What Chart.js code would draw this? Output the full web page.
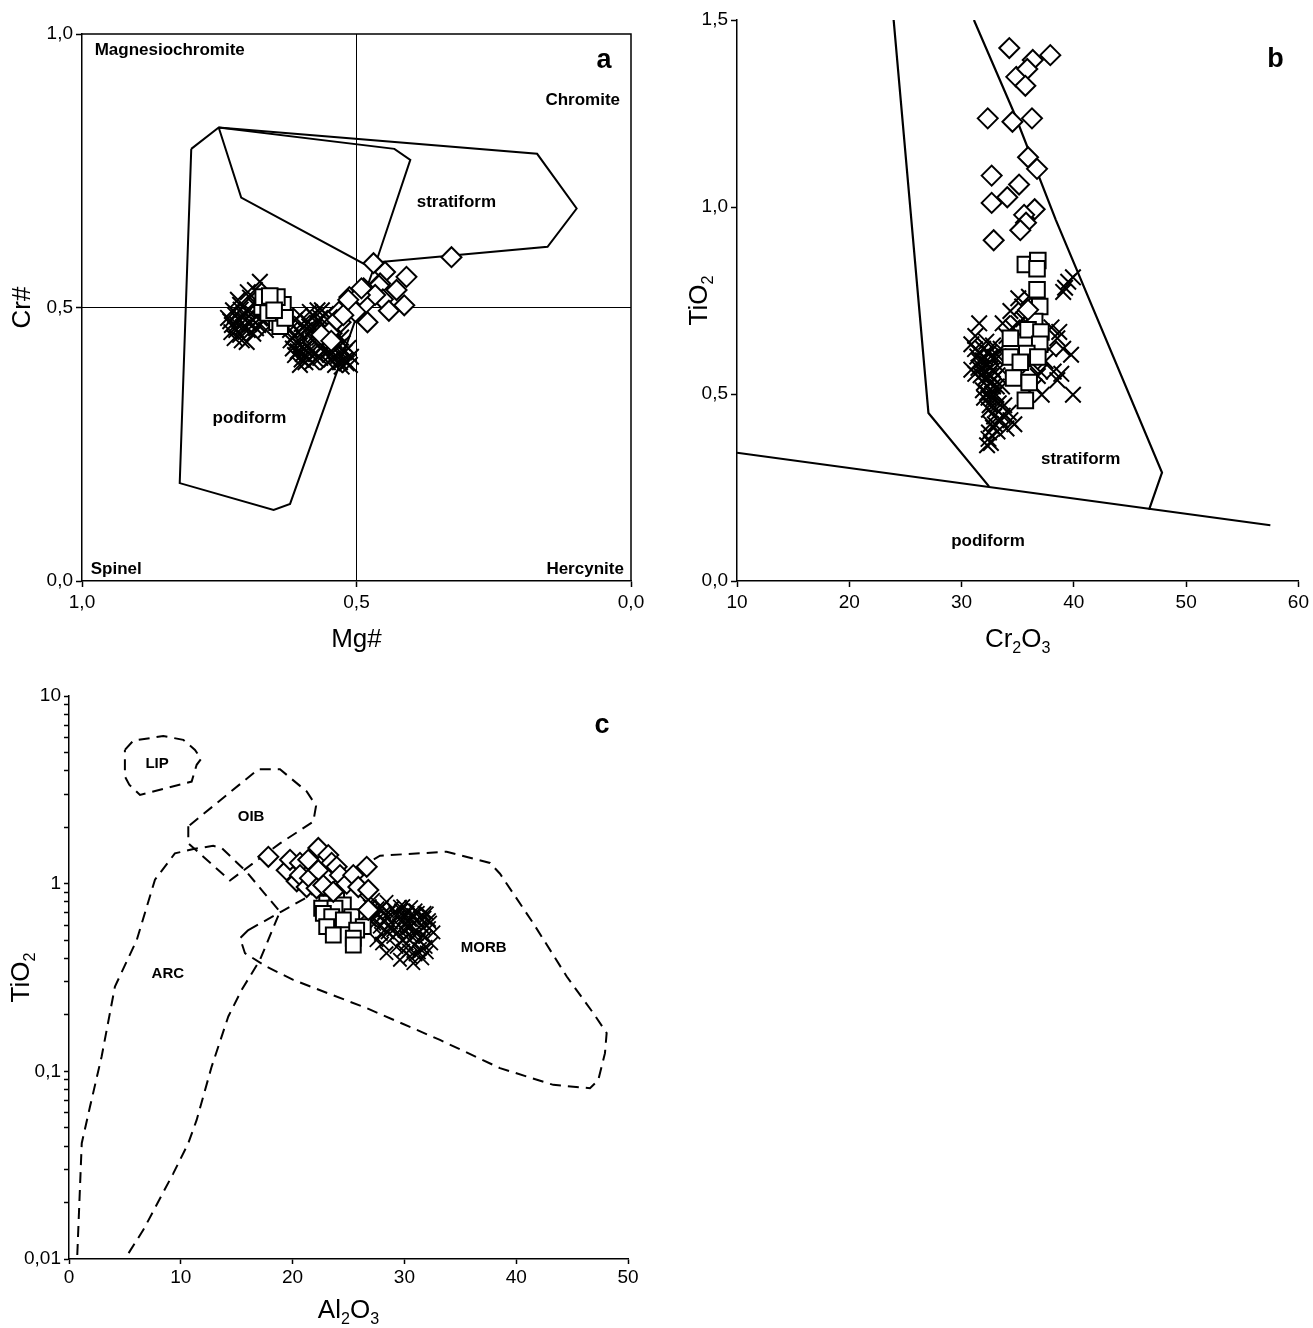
<!DOCTYPE html>
<html>
<head>
<meta charset="utf-8">
<title>Chromite discrimination diagrams</title>
<script src="https://cdn.jsdelivr.net/npm/chart.js@4.4.1/dist/chart.umd.min.js"></script>
<style>
  html, body { margin: 0; padding: 0; background: #fff; }
  body { width: 1313px; height: 1328px; position: relative; overflow: hidden; }
  canvas { position: absolute; }
  #panelA { left: 0; top: 0; }
  #panelB { left: 660px; top: 0; }
  #panelC { left: 0; top: 660px; }
</style>
</head>
<body>
<canvas id="panelA" width="660" height="660"></canvas>
<canvas id="panelB" width="653" height="660"></canvas>
<canvas id="panelC" width="660" height="668"></canvas>
<script>
// ---------------- data: panel a (Cr# vs Mg#) ----------------
const aTicks = [0, 0.5, 1];
const aTickLabels = ['0,0', '0,5', '1,0'];
const aPodiform = [[0.801,0.790],[0.751,0.829],[0.431,0.790],[0.402,0.770],[0.460,0.596],[0.621,0.141],[0.651,0.130],[0.822,0.179],[0.801,0.790]];
const aStratiform = [[0.751,0.829],[0.171,0.781],[0.099,0.681],[0.152,0.611],[0.446,0.584],[0.487,0.580],[0.710,0.701],[0.751,0.829]];
const aDiamonds = [[0.327,0.592],[0.469,0.581],[0.448,0.565],[0.409,0.556],[0.457,0.544],[0.427,0.532],[0.459,0.540],[0.487,0.535],[0.513,0.519],[0.483,0.508],[0.452,0.515],[0.413,0.504],[0.441,0.494],[0.480,0.473],[0.502,0.492],[0.529,0.473],[0.532,0.492],[0.550,0.454],[0.564,0.450],[0.546,0.439],[0.466,0.523],[0.494,0.523],[0.536,0.477],[0.524,0.486],[0.515,0.514],[0.491,0.535]];
const aSquares = [[0.672,0.501],[0.658,0.501],[0.634,0.505],[0.645,0.519],[0.670,0.519],[0.645,0.473],[0.639,0.466],[0.661,0.490],[0.630,0.481],[0.658,0.521],[0.650,0.495]];
const aCrosses = [[0.676,0.547],[0.685,0.532],[0.698,0.528],[0.694,0.518],[0.712,0.505],[0.721,0.486],[0.703,0.477],[0.727,0.468],[0.698,0.459],[0.712,0.450],[0.672,0.495],[0.716,0.514],[0.734,0.481],[0.707,0.464],[0.679,0.468],[0.665,0.459],[0.719,0.459],[0.690,0.490],[0.700,0.495],[0.725,0.495],[0.709,0.440],[0.695,0.470],[0.686,0.505],[0.730,0.475],[0.715,0.478],[0.676,0.480],[0.722,0.444],[0.700,0.437],[0.688,0.452],[0.668,0.476],
  [0.705,0.485],[0.718,0.470],[0.690,0.478],[0.728,0.455],[0.711,0.496],[0.683,0.462],
  [0.612,0.477],[0.603,0.486],[0.585,0.492],[0.566,0.481],[0.594,0.459],[0.576,0.450],[0.557,0.463],[0.603,0.431],[0.585,0.422],[0.612,0.413],[0.566,0.408],[0.548,0.431],[0.530,0.419],[0.521,0.404],[0.539,0.395],[0.603,0.395],[0.581,0.400],[0.557,0.441],[0.621,0.459],[0.570,0.431],[0.597,0.444],[0.536,0.450],[0.515,0.426],[0.548,0.413],[0.588,0.473],[0.563,0.495],[0.610,0.437],[0.577,0.463],[0.552,0.400],[0.590,0.410],[0.616,0.425],[0.560,0.420],[0.540,0.440],[0.575,0.415],[0.595,0.425],[0.525,0.435],[0.510,0.410],[0.530,0.400],[0.545,0.470],[0.600,0.470],[0.620,0.440],[0.580,0.440],
  [0.605,0.455],[0.598,0.415],[0.572,0.472],[0.568,0.445],[0.562,0.430],[0.555,0.452],[0.551,0.420],[0.546,0.405],[0.541,0.425],[0.535,0.410],[0.528,0.445],[0.522,0.418],[0.518,0.398],[0.583,0.455],[0.589,0.430],[0.593,0.400],[0.607,0.420],[0.614,0.448],[0.618,0.470],[0.579,0.485],[0.571,0.495],[0.586,0.465],[0.562,0.470],[0.556,0.488],[0.541,0.458],[0.533,0.428],[0.512,0.395],[0.527,0.392],[0.574,0.405],[0.600,0.405]];

// ---------------- data: panel b (TiO2 vs Cr2O3) ----------------
const bTicksX = [10, 20, 30, 40, 50, 60];
const bTickLabelsX = ['10', '20', '30', '40', '50', '60'];
const bTicksY = [0, 0.5, 1, 1.5];
const bTickLabelsY = ['0,0', '0,5', '1,0', '1,5'];
const bLeftBoundary = [[23.95,1.5],[27.05,0.449],[32.44,0.253]];
const bRightBoundary = [[31.1,1.5],[34.7,1.25],[38.4,0.965],[47.85,0.290],[46.70,0.191]];
const bPodiformLimit = [[10,0.343],[57.5,0.149]];
const bDiamonds = [[34.25,1.425],[36.34,1.393],[37.90,1.406],[34.87,1.348],[35.85,1.369],[35.68,1.324],[32.33,1.237],[34.53,1.228],[36.27,1.237],[35.92,1.133],[36.72,1.102],[32.68,1.084],[35.12,1.060],[34.07,1.026],[32.68,1.011],[36.51,0.994],[35.57,0.979],[35.74,0.958],[35.23,0.938],[32.86,0.911],[35.92,0.725]];
const bSquares = [[35.68,0.846],[36.79,0.857],[36.72,0.835],[36.72,0.779],[36.96,0.734],[36.51,0.694],[35.92,0.672],[37.07,0.666],[34.35,0.649],[36.96,0.633],[35.81,0.608],[34.35,0.599],[36.79,0.599],[35.23,0.585],[34.63,0.543],[36.02,0.531],[35.68,0.483]];
const bCrosses = [[39.92,0.812],[39.22,0.784],[39.05,0.773],[39.5,0.800],[38.01,0.678],[38.70,0.666],[38.53,0.649],[39.05,0.621],[39.75,0.605],[39.92,0.498],[38.88,0.554],[38.53,0.537],[37.14,0.498],[37.48,0.588],[36.79,0.548],[36.09,0.576],[35.05,0.756],[34.35,0.722],[35.40,0.734],[33.66,0.689],[31.57,0.689],[31.22,0.655],[30.87,0.633],[31.92,0.621],[32.44,0.610],[32.96,0.599],[31.57,0.588],[32.27,0.576],[32.79,0.565],[32.09,0.543],[32.61,0.531],[33.14,0.520],[32.27,0.503],[32.79,0.487],[33.31,0.475],[32.44,0.458],[33.66,0.442],[34.35,0.430],[32.96,0.419],[32.44,0.397],[32.61,0.369],[32.27,0.363],[34.00,0.408],[34.70,0.419],[30.87,0.565],[31.22,0.554],[35.05,0.689],[34.53,0.678],[34.00,0.655],[33.48,0.621],[32.0,0.600],[32.3,0.580],[32.5,0.550],[32.8,0.520],[33.0,0.500],[31.8,0.570],[32.0,0.530],[33.4,0.570],[35.5,0.700],[37.8,0.620],[38.2,0.560],[36.5,0.520],[37.0,0.560],[33.8,0.470],[34.2,0.450],[32.9,0.440],[32.6,0.420],[33.2,0.400],[36.0,0.760],[31.6,0.610],[32.2,0.640],[31.9,0.510],[32.4,0.490],[31.7,0.550],
  [31.4,0.600],[31.9,0.590],[32.6,0.600],[32.1,0.560],[32.6,0.570],[31.5,0.570],[32.3,0.520],[32.9,0.540],[33.2,0.550],[32.0,0.490],[32.7,0.500],[33.1,0.460],[32.5,0.470],[32.8,0.410],[33.5,0.430],[32.4,0.380],[33.6,0.520],[33.3,0.600],[31.2,0.620],[32.8,0.630]];

// ---------------- data: panel c (TiO2 vs Al2O3, log) ----------------
const cTicksX = [0, 10, 20, 30, 40, 50];
const cTickLabelsX = ['0', '10', '20', '30', '40', '50'];
const cDecades = [0.01, 0.1, 1, 10];
const cDecadeLabels = ['0,01', '0,1', '1', '10'];
const cMinorSteps = [2, 3, 4, 5, 6, 7, 8, 9];
const cLIP = [[5.0,5.16],[5.75,5.78],[8.43,6.12],[10.22,5.84],[11.27,5.16],[11.81,4.62],[11.42,4.30],[10.97,3.50],[6.35,2.97],[5.39,3.37],[5.0,3.73],[5.0,5.16]];
const cOIB = [[10.67,2.02],[10.67,1.64],[14.4,1.04],[18.87,1.64],[21.85,2.14],[22.1,2.60],[21.26,3.10],[18.87,4.07],[16.93,4.07],[10.67,2.02]];
const cARC = [[0.74,0.0105],[1.14,0.0414],[1.88,0.0649],[2.92,0.120],[4.11,0.283],[6.06,0.501],[7.69,1.05],[9.47,1.45],[11.13,1.53],[12.9,1.59],[13.66,1.55],[15.92,1.15],[17.2,0.93],[18.87,0.71],[17.08,0.392],[15.45,0.272],[14.25,0.196],[12.76,0.106],[11.42,0.0551],[10.67,0.0414],[9.33,0.0286],[6.65,0.0143],[5.0,0.01]];
const cMORB = [[16.04,0.566],[15.3,0.512],[15.74,0.426],[17.68,0.361],[20.06,0.307],[26.63,0.217],[33.18,0.147],[38.55,0.104],[43.32,0.0847],[46.6,0.0813],[47.34,0.0899],[47.94,0.125],[48.09,0.160],[46.9,0.204],[44.52,0.320],[41.53,0.615],[38.55,1.13],[37.66,1.29],[33.78,1.48],[27.82,1.41],[26.92,1.31],[19.0,0.71],[16.04,0.566]];
const cDiamonds = [[17.83,1.39],[19.47,1.18],[19.77,1.34],[20.37,1.03],[20.66,1.29],[20.66,1.11],[21.4,1.34],[21.26,0.96],[21.56,1.07],[22.3,1.55],[22.3,1.18],[22.15,0.945],[22.75,0.98],[23.19,1.42],[23.49,1.29],[23.94,1.23],[23.64,0.905],[24.24,1.11],[24.84,1.0],[25.43,1.11],[25.88,0.96],[26.63,1.23],[26.77,0.925],[26.77,0.725]];
const cSquares = [[23.05,0.787],[23.94,0.819],[24.54,0.771],[22.6,0.74],[23.79,0.74],[22.75,0.695],[25.29,0.667],[23.5,0.667],[24.54,0.641],[23.05,0.59],[26.32,0.59],[25.73,0.566],[23.64,0.533],[25.43,0.512],[25.43,0.471]];
const cCrosses = [[27.2,0.82],[28.4,0.80],[29.6,0.755],[31.0,0.72],[32.0,0.695],[32.3,0.62],[32.6,0.55],[32.0,0.43],[30.8,0.377],[29.6,0.393],[28.4,0.426],[27.5,0.50],[26.9,0.64],[27.8,0.59],[29.0,0.566],[30.2,0.59],[31.1,0.54],[30.2,0.48],[29.3,0.46],[31.4,0.45],[26.6,0.80],[27.0,0.72],[27.6,0.68],[28.0,0.75],[28.6,0.70],[28.2,0.64],[28.8,0.62],[29.4,0.66],[29.9,0.68],[30.5,0.64],[30.9,0.62],[31.5,0.60],[31.8,0.66],[31.2,0.70],[30.6,0.75],[30.0,0.56],[30.7,0.52],[31.3,0.50],[31.9,0.52],[31.6,0.40],[31.0,0.42],[30.4,0.44],[29.8,0.50],[29.0,0.52],[28.5,0.55],[27.3,0.61],[26.7,0.70],[28.0,0.48],[30.1,0.62],[31.7,0.58],[32.4,0.48],[31.1,0.64],[29.5,0.60],[28.9,0.74],[27.9,0.54],[30.3,0.70],[32.2,0.58],
  [29.2,0.70],[29.7,0.72],[30.0,0.66],[30.8,0.68],[31.4,0.66],[30.4,0.58],[31.0,0.56],[30.6,0.60],[31.6,0.53],[30.9,0.47],[31.3,0.43],[30.5,0.41],[29.9,0.44],[29.4,0.55],[28.7,0.58],[28.2,0.70],[27.6,0.74],[27.2,0.66],[26.9,0.76],[28.5,0.66],[29.9,0.76],[31.8,0.70],[32.2,0.64],[31.9,0.46],[30.2,0.52]];

// ---------------- helpers ----------------
const TEXT_FONT = '"Liberation Sans", Arial, Helvetica, sans-serif';
Chart.defaults.font.family = TEXT_FONT;
Chart.defaults.color = '#000';

const pts = arr => arr.map(p => ({ x: p[0], y: p[1] }));

function markerSet(data, style, radius, width) {
  return {
    data: pts(data), showLine: false, pointStyle: style,
    pointRadius: radius, pointHoverRadius: radius,
    pointBorderColor: '#000', pointBackgroundColor: '#fff', pointBorderWidth: width
  };
}

function outline(data, width, dash) {
  return {
    data: pts(data), showLine: true, fill: false, tension: 0,
    pointRadius: 0, pointHoverRadius: 0,
    borderColor: '#000', borderWidth: width, borderDash: dash || [],
    borderCapStyle: 'butt', borderJoinStyle: 'miter'
  };
}

// axis with a fixed box size so the plot areas line up
function axis(o) {
  const isY = o.dir === 'y';
  return {
    type: o.type || 'linear',
    position: isY ? 'left' : 'bottom',
    min: o.min, max: o.max, reverse: !!o.reverse,
    border: { display: true, color: '#000', width: 1.5 },
    grid: { display: true, drawOnChartArea: false, drawTicks: true,
            tickLength: o.tickLength || 6, tickColor: '#000', tickWidth: 1.5 },
    ticks: {
      autoSkip: false, maxRotation: 0, minRotation: 0, padding: o.padding, color: '#000',
      font: { family: TEXT_FONT, size: 19 },
      callback: v => {
        const i = o.labelAt.findIndex(t => Math.abs(t - v) < 1e-9 * Math.max(1, Math.abs(t)));
        return i >= 0 ? o.labels[i] : '';
      }
    },
    afterBuildTicks: s => { s.ticks = o.marks.map(v => ({ value: v })); },
    afterFit: s => { if (isY) s.width = o.size; else s.height = o.size; }
  };
}

// text with subscripts, centred on the current origin
function drawRich(ctx, parts, size) {
  const sub = size * 0.62;
  let w = 0;
  parts.forEach(([t, s]) => { ctx.font = `${s ? sub : size}px ${TEXT_FONT}`; w += ctx.measureText(t).width; });
  let x = -w / 2;
  ctx.textAlign = 'left';
  ctx.textBaseline = 'alphabetic';
  parts.forEach(([t, s]) => {
    ctx.font = `${s ? sub : size}px ${TEXT_FONT}`;
    ctx.fillText(t, x, size * 0.36 + (s ? size * 0.2 : 0));
    x += ctx.measureText(t).width;
  });
}

function panelText(cfg) {
  return {
    id: 'panelText',
    beforeDatasetsDraw(chart) {
      if (!cfg.frame) return;
      const { ctx, chartArea: a } = chart;
      ctx.save();
      ctx.strokeStyle = '#000';
      ctx.lineWidth = 1.5;
      ctx.beginPath();
      ctx.moveTo(a.left, a.top); ctx.lineTo(a.right, a.top); ctx.lineTo(a.right, a.bottom);
      ctx.stroke();
      ctx.restore();
    },
    afterDraw(chart) {
      const { ctx, chartArea: a, scales } = chart;
      ctx.save();
      ctx.fillStyle = '#000';
      cfg.labels.forEach(l => {
        ctx.font = `bold ${l.size}px ${TEXT_FONT}`;
        ctx.textAlign = l.align || 'center';
        ctx.textBaseline = 'middle';
        ctx.fillText(l.text, scales.x.getPixelForValue(l.x), scales.y.getPixelForValue(l.y));
      });
      // panel letter
      ctx.font = `bold 27px ${TEXT_FONT}`;
      ctx.textAlign = 'center';
      ctx.textBaseline = 'middle';
      ctx.fillText(cfg.letter.text, a.right + cfg.letter.dx, a.top + cfg.letter.dy);
      // axis titles
      ctx.save();
      ctx.translate((a.left + a.right) / 2, a.bottom + cfg.xTitle.dy);
      drawRich(ctx, cfg.xTitle.parts, 26);
      ctx.restore();
      ctx.save();
      ctx.translate(a.left + cfg.yTitle.dx, (a.top + a.bottom) / 2);
      ctx.rotate(-Math.PI / 2);
      drawRich(ctx, cfg.yTitle.parts, 26);
      ctx.restore();
      ctx.restore();
    }
  };
}

const baseOptions = (scales, padding) => ({
  responsive: false, animation: false, events: [],
  layout: { padding },
  plugins: { legend: { display: false }, tooltip: { enabled: false } },
  scales
});

// ---------------- panel a ----------------
new Chart(document.getElementById('panelA'), {
  type: 'scatter',
  data: { datasets: [
    markerSet(aDiamonds, 'rectRot', 10, 2),
    markerSet(aSquares, 'rect', 11, 2),
    markerSet(aCrosses, 'crossRot', 11, 2),
    outline([[0.5, 0], [0.5, 1]], 1),
    outline([[0, 0.5], [1, 0.5]], 1),
    outline(aPodiform, 2),
    outline(aStratiform, 2)
  ] },
  options: baseOptions({
    x: axis({ dir: 'x', min: 0, max: 1, reverse: true, marks: aTicks, labelAt: aTicks, labels: aTickLabels, size: 79, padding: 4 }),
    y: axis({ dir: 'y', min: 0, max: 1, marks: aTicks, labelAt: aTicks, labels: aTickLabels, size: 82, padding: 3 })
  }, { top: 34, right: 29, left: 0, bottom: 0 }),
  plugins: [panelText({
    frame: true,
    labels: [
      { text: 'Magnesiochromite', x: 0.977, y: 0.970, align: 'left', size: 17 },
      { text: 'Chromite', x: 0.020, y: 0.879, align: 'right', size: 17 },
      { text: 'stratiform', x: 0.318, y: 0.692, size: 17 },
      { text: 'podiform', x: 0.695, y: 0.297, size: 17 },
      { text: 'Spinel', x: 0.984, y: 0.021, align: 'left', size: 17 },
      { text: 'Hercynite', x: 0.013, y: 0.021, align: 'right', size: 17 }
    ],
    letter: { text: 'a', dx: -27, dy: 27 },
    xTitle: { parts: [['Mg#', 0]], dy: 57 },
    yTitle: { parts: [['Cr#', 0]], dx: -61 }
  })]
});

// ---------------- panel b ----------------
new Chart(document.getElementById('panelB'), {
  type: 'scatter',
  data: { datasets: [
    markerSet(bDiamonds, 'rectRot', 10, 2),
    markerSet(bSquares, 'rect', 11, 2),
    markerSet(bCrosses, 'crossRot', 11, 2),
    outline(bLeftBoundary, 2.2),
    outline(bRightBoundary, 2.2),
    outline(bPodiformLimit, 2.2)
  ] },
  options: baseOptions({
    x: axis({ dir: 'x', min: 10, max: 60, marks: bTicksX, labelAt: bTicksX, labels: bTickLabelsX, size: 79, padding: 4 }),
    y: axis({ dir: 'y', min: 0, max: 1.5, marks: bTicksY, labelAt: bTicksY, labels: bTickLabelsY, size: 77, padding: 3 })
  }, { top: 20, right: 14, left: 0, bottom: 0 }),
  plugins: [panelText({
    frame: false,
    labels: [
      { text: 'stratiform', x: 40.6, y: 0.326, size: 17 },
      { text: 'podiform', x: 32.35, y: 0.105, size: 17 }
    ],
    letter: { text: 'b', dx: -23, dy: 40 },
    xTitle: { parts: [['Cr', 0], ['2', 1], ['O', 0], ['3', 1]], dy: 57 },
    yTitle: { parts: [['TiO', 0], ['2', 1]], dx: -39 }
  })]
});

// ---------------- panel c ----------------
const cLogMarks = [];
cDecades.forEach((d, i) => {
  cLogMarks.push(d);
  if (i < cDecades.length - 1) cMinorSteps.forEach(m => cLogMarks.push(+(m * d).toPrecision(6)));
});

new Chart(document.getElementById('panelC'), {
  type: 'scatter',
  data: { datasets: [
    markerSet(cDiamonds, 'rectRot', 10, 2),
    markerSet(cSquares, 'rect', 10.5, 2),
    markerSet(cCrosses, 'crossRot', 9.5, 1.8),
    outline(cLIP, 2, [11, 7]),
    outline(cOIB, 2, [11, 7]),
    outline(cARC, 2, [11, 7]),
    outline(cMORB, 2, [11, 7])
  ] },
  options: baseOptions({
    x: axis({ dir: 'x', min: 0, max: 50, marks: cTicksX, labelAt: cTicksX, labels: cTickLabelsX, size: 69, padding: 2, tickLength: 5 }),
    y: axis({ dir: 'y', type: 'logarithmic', min: 0.01, max: 10, marks: cLogMarks, labelAt: cDecades, labels: cDecadeLabels, size: 69, padding: 3, tickLength: 5 })
  }, { top: 36, right: 32, left: 0, bottom: 0 }),
  plugins: [panelText({
    frame: false,
    labels: [
      { text: 'LIP', x: 7.88, y: 4.37, size: 15 },
      { text: 'OIB', x: 16.29, y: 2.27, size: 15 },
      { text: 'ARC', x: 8.84, y: 0.331, size: 15 },
      { text: 'MORB', x: 37.1, y: 0.456, size: 15 }
    ],
    letter: { text: 'c', dx: -26, dy: 30 },
    xTitle: { parts: [['Al', 0], ['2', 1], ['O', 0], ['3', 1]], dy: 50 },
    yTitle: { parts: [['TiO', 0], ['2', 1]], dx: -49 }
  })]
});
</script>
</body>
</html>
